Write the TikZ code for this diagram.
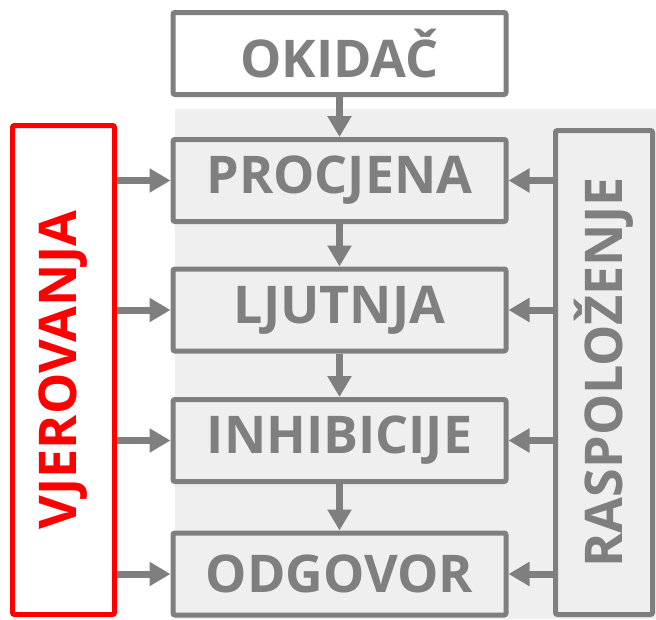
\documentclass[tikz,border=0pt]{standalone}
\usepackage{fontspec}
\setmainfont{Open Sans}
\usetikzlibrary{arrows.meta}
\definecolor{boxgray}{HTML}{7F7F7F}
\definecolor{bggray}{HTML}{EFEFEF}
\definecolor{redline}{HTML}{FF0000}
\begin{document}
\begin{tikzpicture}[x=1pt,y=-1pt,
  stepbox/.style={draw=boxgray,line width=5pt,rounded corners=2pt,minimum width=333pt,minimum height=82pt,inner sep=0pt,text=boxgray,font=\fontsize{52}{60}\selectfont\bfseries},
  sidebox/.style={draw=#1,line width=5pt,rounded corners=2pt,inner sep=0pt},
  sidetext/.style={text=#1,rotate=90,font=\fontsize{52}{60}\selectfont\bfseries},
  arr/.style={draw=boxgray,line width=7pt,-{Triangle[length=21pt,width=23pt]}}]
\useasboundingbox (0,0) rectangle (656,619);
\fill[bggray] (175,109) rectangle (656,619);
\node[stepbox,fill=white] (ok) at (339.5,53.5) {OKIDAČ};
\node[stepbox] (pr) at (339.5,180.5) {PROCJENA};
\node[stepbox] (lj) at (339.5,310) {LJUTNJA};
\node[stepbox] (in) at (339.5,440.5) {INHIBICIJE};
\node[stepbox] (od) at (339.5,574) {ODGOVOR};
\node[sidebox=redline,fill=white,minimum width=102pt,minimum height=489pt] (vj) at (63.5,370) {};
\node[sidetext=redline] (vjt) at (vj.center) {VJEROVANJA};
\node[sidebox=boxgray,fill=bggray,minimum width=97pt,minimum height=484pt] (ra) at (604,372.5) {};
\node[sidetext=boxgray] (rat) at (ra.center) {RASPOLOŽENJE};
\draw[arr] (ok) -- (pr);
\draw[arr] (pr) -- (lj);
\draw[arr] (lj) -- (in);
\draw[arr] (in) -- (od);
\foreach \n in {pr,lj,in,od}{
  \draw[arr] (vj.east |- \n) -- (\n.west);
  \draw[arr] (ra.west |- \n) -- (\n.east);
}
\end{tikzpicture}
\end{document}
